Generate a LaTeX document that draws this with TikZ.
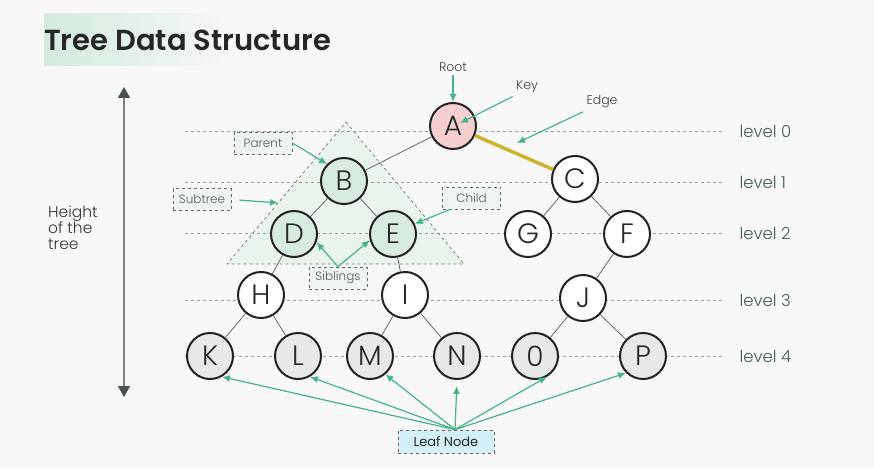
\documentclass[tikz,border=0pt]{standalone}
\usepackage{fontspec}
\setmainfont{Poppins}
\newfontfamily\thinfont{Poppins-Light}
\newfontfamily\titlefont{Poppins-SemiBold}
\usetikzlibrary{arrows.meta}
\usetikzlibrary{automata}
\usetikzlibrary{positioning}
\usetikzlibrary{calc}
\definecolor{bggrey}{HTML}{F8F8F8}
\definecolor{titlegreen}{HTML}{D3EBDC}
\definecolor{rootpink}{HTML}{F5CFCF}
\definecolor{subgreen}{HTML}{D7EBDE}
\definecolor{leafgrey}{HTML}{E8E8E8}
\definecolor{taggreen}{HTML}{EEF4F0}
\definecolor{leafblue}{HTML}{D3F0F9}
\definecolor{arrowgreen}{HTML}{46B585}
\definecolor{edgeyellow}{HTML}{CDB42C}
\definecolor{levelteal}{HTML}{3E5E5B}
\definecolor{nodeline}{HTML}{222222}
\definecolor{tipgrey}{HTML}{4A5250}

\begin{document}
\begin{tikzpicture}[x=1pt,y=-1pt,>={Latex[length=8pt,width=7pt]},on grid]
      \tikzstyle{every state}=[draw=nodeline,line width=2pt,minimum size=46pt,inner sep=0pt,text=black!85,font=\thinfont\fontsize{28}{28}\selectfont]
      \tikzstyle{inner}=[fill=white]
      \tikzstyle{sub}=[fill=subgreen]
      \tikzstyle{leaf}=[fill=leafgrey]
      \tikzstyle{tag}=[draw=black!60,dashed,line width=0.8pt,fill=taggreen,text=black!65,font=\thinfont\fontsize{12}{12}\selectfont,minimum width=58pt,minimum height=22pt,inner sep=0pt]
      \tikzstyle{note}=[text=black!75,font=\thinfont\fontsize{12.5}{12.5}\selectfont]
      \tikzstyle{pointer}=[->,draw=arrowgreen,fill=arrowgreen,line width=1.2pt]
      \tikzstyle{branch}=[draw=black!60,line width=0.8pt]
      \tikzstyle{levelline}=[draw=black!40,dash pattern=on 3pt off 3pt,line width=1pt]
      \tikzstyle{leveltext}=[anchor=west,text=levelteal,font=\thinfont\fontsize{16.5}{16.5}\selectfont]

      % background and margins
      \fill[bggrey] (0,0) rectangle (874,468);
      \useasboundingbox (0,0) rectangle (874,468);

      % title
      \shade[left color=titlegreen,right color=bggrey] (44,14) rectangle (233,66);
      \node[anchor=west,inner sep=0pt,text=black!85,font=\titlefont\fontsize{29}{29}\selectfont] (title) at (44,40) {Tree Data Structure};

      % height of the tree
      \coordinate (htop) at (124,87);
      \coordinate (hbot) at (124,397);
      \draw[{Triangle[length=11pt,width=12pt,color=tipgrey]}-{Triangle[length=11pt,width=12pt,color=tipgrey]},draw=black!50,line width=1.5pt] (htop) -- (hbot);
      \node[align=left,anchor=west,inner sep=0pt,text=black!80,font=\thinfont\fontsize{15.5}{16}\selectfont] (height) at (48,228) {Height\\of the\\tree};

      % subtree triangle
      \coordinate (apex) at (346,122);
      \coordinate (baseL) at (227,264);
      \coordinate (baseR) at (464,264);
      \filldraw[fill=subgreen!55,draw=black!55,dashed,line width=0.7pt] (apex) -- (baseR) -- (baseL) -- cycle;

      % levels
      \foreach \y/\n in {131/0,182/1,233/2,300/3,356/4}{
        \node[leveltext] (lv\n) at (736,\y) {level \n};
        \draw[levelline] (185,\y) -- (722,\y);
      }

      % the tree
      \node[state,fill=rootpink]	(A) at (453,126) {A};
      \node[state,sub]		(B) [below left=55pt and 109pt of A] {B};
      \node[state,inner]		(C) [below right=53pt and 122pt of A] {C};
      \node[state,sub]		(D) [below left=53pt and 50pt of B] {D};
      \node[state,sub]		(E) [below right=53pt and 49pt of B] {E};
      \node[state,inner]		(G) [below left=55pt and 47pt of C] {G};
      \node[state,inner]		(F) [below right=55pt and 52pt of C] {F};
      \node[state,inner]		(H) [below left=61pt and 33pt of D] {H};
      \node[state,inner]		(I) [below right=61pt and 12pt of E] {I};
      \node[state,inner]		(J) [below left=64pt and 44pt of F] {J};
      \node[state,leaf]		(K) [below left=61pt and 51pt of H] {K};
      \node[state,leaf]		(L) [below right=61pt and 37pt of H] {L};
      \node[state,leaf]		(M) [below left=61pt and 35pt of I] {M};
      \node[state,leaf]		(N) [below right=61pt and 52pt of I] {N};
      \node[state,leaf]		(O) [below left=58pt and 48pt of J] {0};
      \node[state,leaf]		(P) [below right=58pt and 60pt of J] {P};

      \path[branch]
	(A) edge	(B)
	(B) edge	(D)
	(B) edge	(E)
	(C) edge	(G)
	(C) edge	(F)
	(D) edge	(H)
	(E) edge	(I)
	(F) edge	(J)
	(H) edge	(K)
	(H) edge	(L)
	(I) edge	(M)
	(I) edge	(N)
	(J) edge	(O)
	(J) edge	(P);
      \draw[edgeyellow,line width=3.5pt] (A) -- (C);

      % labels
      \node[note] (root) at (453,67) {Root};
      \node[note] (key) at (527,87) {Key};
      \node[note] (edgelbl) at (602,102) {Edge};
      \node[tag] (parent) at (263,143) {Parent};
      \node[tag] (subtree) at (202,199.5) {Subtree};
      \node[tag] (child) at (471.5,198) {Child};
      \node[tag] (siblings) at (338,278) {Siblings};
      \node[tag,fill=leafblue,text=black!85,minimum width=96pt,minimum height=23pt,font=\fontsize{13}{13}\selectfont] (leafnode) at (446,441.5) {Leaf Node};

      \coordinate (keytip) at (460,123);
      \coordinate (edgetip) at (517,143);
      \coordinate (fan) at ([xshift=9pt]leafnode.north);

      \draw[pointer] (root) -- (A);
      \draw[pointer] (key.south west) -- (keytip);
      \draw[pointer] (edgelbl.south west) -- (edgetip);
      \draw[pointer] (parent.east) -- (B.135);
      \draw[pointer,shorten <=8pt] (subtree.east) -- ($(apex)!0.57!(baseL)$);
      \draw[pointer] ([xshift=8pt]child.south west) -- (E.25);
      \draw[pointer] (siblings.north) -- (D.-20);
      \draw[pointer] (siblings.north) -- (E.195);
      \foreach \t in {K.-60,L.-60,M.-50,O.-60,P.-135}
        \draw[pointer] (fan) -- (\t);
      \draw[pointer,shorten >=6pt] (fan) -- (N.south);
\end{tikzpicture}
\end{document}
